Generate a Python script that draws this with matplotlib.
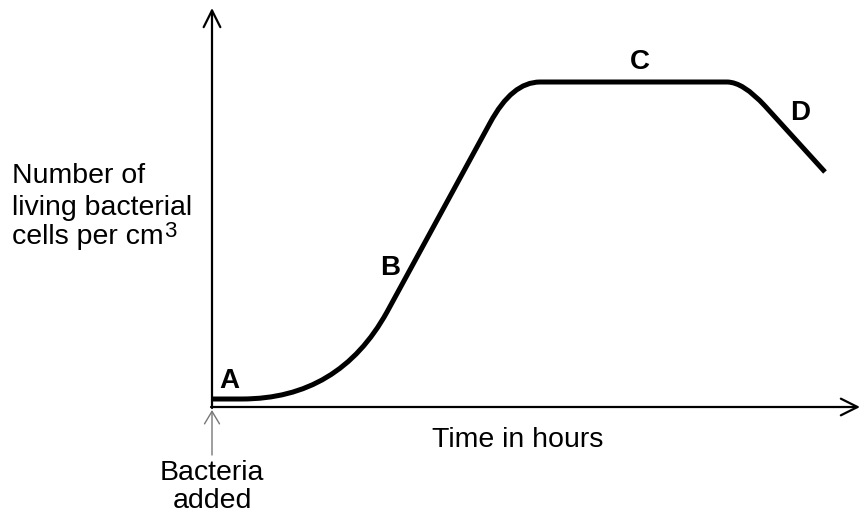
import matplotlib
matplotlib.use('Agg')
import matplotlib.pyplot as plt
from matplotlib.path import Path
from matplotlib.patches import PathPatch

plt.rcParams['font.family'] = ['Liberation Sans', 'DejaVu Sans']

# growth curve (arbitrary units, origin at axes corner)
# key points with the bend points of the rounded corners
time = [0, 30, 127, 175, 278, 300, 328, 515, 531, 553, 613]
cells = [8, 8, 8, 95, 284, 325, 325, 325, 325, 301, 235]
codes = [Path.MOVETO, Path.LINETO, Path.CURVE3, Path.CURVE3, Path.LINETO,
         Path.CURVE3, Path.CURVE3, Path.LINETO, Path.CURVE3, Path.CURVE3,
         Path.LINETO]

phase_labels = ['A', 'B', 'C', 'D']
phase_t = [17, 178, 428, 588]
phase_n = [26, 139, 345, 294]

fig = plt.figure(figsize=(8.62, 5.18), dpi=100)
ax = fig.add_axes([0, 0, 1, 1])
ax.set_xlim(-212, 650)
ax.set_ylim(-111, 407)
ax.axis('off')

arr = dict(arrowstyle='->,head_length=0.6,head_width=0.3', lw=1.6,
           color='black', mutation_scale=20, shrinkA=0, shrinkB=0)
ax.annotate('', xy=(0, 399), xytext=(0, -1), arrowprops=arr)
ax.annotate('', xy=(648, 0), xytext=(-1, 0), arrowprops=arr)

curve = Path(list(zip(time, cells)), codes)
ax.add_patch(PathPatch(curve, facecolor='none', edgecolor='black', lw=3.6,
                       joinstyle='round', capstyle='butt'))

for lab, t, n in zip(phase_labels, phase_t, phase_n):
    ax.text(t, n, lab, fontsize=20, fontweight='bold', ha='center', va='center')

fs = 20.5
ax.text(-200, 224, 'Number of', fontsize=fs, va='baseline')
ax.text(-200, 192, 'living bacterial', fontsize=fs, va='baseline')
t3 = ax.text(-200, 163, 'cells per cm', fontsize=fs, va='baseline')
ax.annotate('3', xy=(1, 0), xycoords=t3, xytext=(0.5, 5.5),
            textcoords='offset points', fontsize=16, va='bottom')
ax.text(306, -40, 'Time in hours', fontsize=fs, ha='center', va='baseline')

ax.annotate('', xy=(0, -3), xytext=(0, -48),
            arrowprops=dict(arrowstyle='->,head_length=0.5,head_width=0.3',
                            lw=1.0, color='#777777', mutation_scale=18,
                            shrinkA=0, shrinkB=0))
ax.text(0, -73, 'Bacteria', fontsize=fs, ha='center', va='baseline')
ax.text(0, -101, 'added', fontsize=fs, ha='center', va='baseline')

plt.savefig('out.png', dpi=100)
